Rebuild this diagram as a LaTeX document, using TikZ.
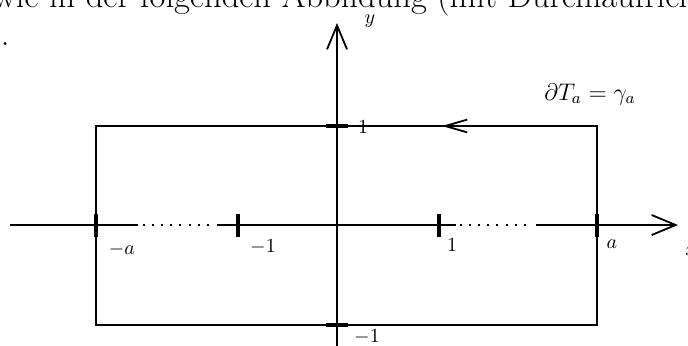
\documentclass[tikz,border=0pt]{standalone}
\usetikzlibrary{arrows.meta}
\begin{document}
\begin{tikzpicture}[x=0.5pt,y=-0.5pt,line width=0.9pt,
  axisarrow/.style={-{Straight Barb[length=12pt,width=10pt,line width=0.9pt]}},
  midarrow/.style={-{Straight Barb[length=11pt,width=6.4pt,line width=0.9pt]}},
  tickmark/.style={line width=2pt},
  dotseg/.style={dash pattern=on 1pt off 3.55pt},
  lab/.style={font=\fontsize{10}{12}\selectfont,inner sep=0pt},
  biglab/.style={font=\fontsize{12}{14.5}\selectfont,inner sep=0pt},
  bodytext/.style={font=\fontsize{17.28}{22}\selectfont,inner sep=0pt}]
\useasboundingbox (0,0) rectangle (688,345);
% running text (clipped by the page)
\node[bodytext,anchor=base west] (txt) at (-8,7) {wie in der folgenden Abbildung (mit Durchlaufrichtung)};
\node[bodytext,anchor=base west] (dot) at (0,45) {.};
% coordinates
\coordinate (O) at (337,225);
\coordinate (xstart) at (10,225);
\coordinate (xend) at (678,225);
\coordinate (ystart) at (337,352);
\coordinate (yend) at (337,23);
\coordinate (l1) at (138,225);
\coordinate (l2) at (143,225);
\coordinate (l3) at (209,225);
\coordinate (l4) at (217,225);
\coordinate (r1) at (456,225);
\coordinate (r2) at (460,225);
\coordinate (r3) at (528,225);
\coordinate (r4) at (536,225);
\coordinate (A) at (96,126);
\coordinate (B) at (597,126);
\coordinate (C) at (597,325);
\coordinate (D) at (96,325);
\coordinate (arrS) at (480,126);
\coordinate (arrE) at (442,126);
% rectangle
\draw (A) -- (B) -- (C) -- (D) -- cycle;
\draw[midarrow] (arrS) -- (arrE);
% x axis
\draw (xstart) -- (l1);
\draw[dotseg] (l2) -- (l3);
\draw (l4) -- (r1);
\draw[dotseg] (r2) -- (r3);
\draw[axisarrow] (r4) -- (xend);
% y axis
\draw[axisarrow] (ystart) -- (yend);
% ticks
\foreach \t in {96,238,439,597}{\draw[tickmark] (\t,214) -- (\t,237);}
\foreach \t in {126,325}{\draw[tickmark] (326,\t) -- (348,\t);}
% labels
\node[lab] (lma) at (122,249) {$-a$};
\node[lab] (lm1) at (263,247) {$-1$};
\node[lab] (lp1) at (452,245) {$1$};
\node[lab] (lpa) at (612,244) {$a$};
\node[lab] (ly1) at (363,127) {$1$};
\node[lab] (lym1) at (367,337) {$-1$};
\node[lab] (ly) at (370,21) {$y$};
\node[lab] (lx) at (691,251) {$x$};
\node[biglab,anchor=base] (lgam) at (590,100) {$\partial T_a=\gamma_a$};
\end{tikzpicture}
\end{document}
